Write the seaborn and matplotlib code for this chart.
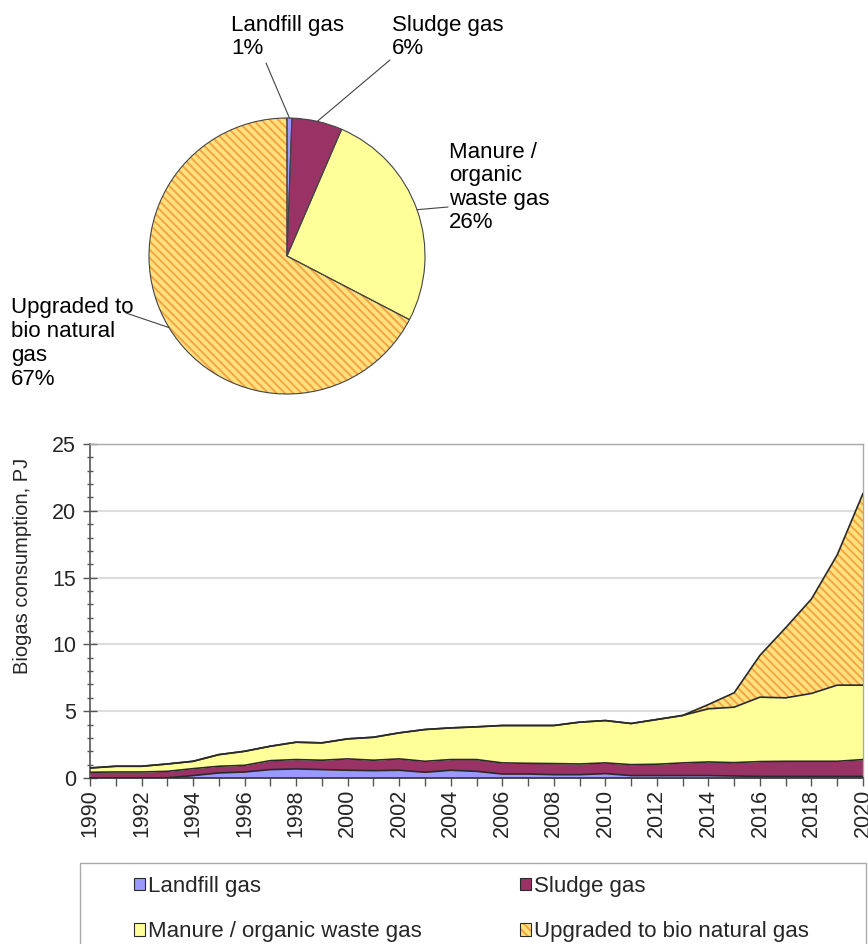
import numpy as np
import pandas as pd
import matplotlib
matplotlib.use("Agg")
import matplotlib.pyplot as plt
from matplotlib.patches import Patch, Rectangle
from matplotlib.ticker import MultipleLocator
import seaborn as sns

# data (PJ)
years = list(range(1990, 2021))
landfill = [0.0, 0.0, 0.0, 0.02, 0.18, 0.38, 0.45, 0.63, 0.68, 0.63, 0.58, 0.55, 0.58, 0.43, 0.58, 0.50,
            0.30, 0.30, 0.25, 0.25, 0.33, 0.18, 0.18, 0.18, 0.18, 0.15, 0.12, 0.12, 0.12, 0.12, 0.12]
sludge = [0.43, 0.45, 0.45, 0.48, 0.52, 0.50, 0.50, 0.67, 0.70, 0.70, 0.85, 0.78, 0.85, 0.82, 0.80, 0.88,
          0.83, 0.80, 0.83, 0.80, 0.80, 0.82, 0.85, 0.95, 1.02, 1.00, 1.11, 1.13, 1.13, 1.13, 1.26]
manure = [0.32, 0.43, 0.43, 0.55, 0.55, 0.87, 1.05, 1.08, 1.30, 1.30, 1.50, 1.72, 1.95, 2.38, 2.37, 2.45,
          2.80, 2.83, 2.85, 3.13, 3.17, 3.08, 3.35, 3.55, 3.98, 4.15, 4.82, 4.75, 5.08, 5.70, 5.57]
upgraded = [0.0, 0.0, 0.0, 0.0, 0.0, 0.0, 0.0, 0.0, 0.0, 0.0, 0.0, 0.0, 0.0, 0.0, 0.0, 0.0,
            0.0, 0.0, 0.0, 0.0, 0.0, 0.0, 0.0, 0.0, 0.32, 1.08, 3.13, 5.25, 7.07, 9.75, 14.35]

legend_names = ["Landfill gas", "Sludge gas", "Manure / organic waste gas", "Upgraded to bio natural gas"]
pie_names = ["Landfill gas", "Sludge gas", "Manure /\norganic\nwaste gas", "Upgraded to\nbio natural\ngas"]

colors = ["#9999FF", "#993366", "#FFFF99", "#FFE27E"]
hatch_col = "#F5A444"
hatch = "\\\\\\\\"
line_col = "#2a2a2a"

sns.set_theme(style="white")
plt.rcParams["font.family"] = ["Liberation Sans", "DejaVu Sans"]
plt.rcParams["hatch.linewidth"] = 1.4
FS_PIE = 16
FS_TICK = 15.5
FS_LAB = 14.5
FS_LEG = 16

W, H = 868, 944
fig = plt.figure(figsize=(W / 100, H / 100), dpi=100)

# ---------------- pie (2020 shares) ----------------
cx, cy, R = 287, 256, 138
pax = fig.add_axes([(cx - R) / W, 1 - (cy + R) / H, 2 * R / W, 2 * R / H])
vals_2020 = [landfill[-1], sludge[-1], manure[-1], upgraded[-1]]
wedges, _ = pax.pie(vals_2020, colors=colors, startangle=90, counterclock=False,
                    wedgeprops=dict(linewidth=0))
wedges[3].set_edgecolor(hatch_col)
wedges[3].set_hatch(hatch)
pax.pie(vals_2020, startangle=90, counterclock=False,
        wedgeprops=dict(fill=False, edgecolor="#444444", linewidth=0.8))
pax.set_xlim(-1, 1)
pax.set_ylim(-1, 1)
pax.set_aspect("equal")
pax.axis("off")

shares = np.array(vals_2020) / sum(vals_2020) * 100


def px2d(x, y):
    return (x - cx) / R, (cy - y) / R


text_pos = [(231, 15), (392, 15), (449, 142), (11, 297)]
line_start = [(266, 63), (390, 60), (448, 207), (126, 313)]
spacing = [1.12, 1.12, 1.15, 1.19]
for i, w in enumerate(wedges):
    tx, ty = px2d(*text_pos[i])
    pax.text(tx, ty, f"{pie_names[i]}\n{shares[i]:.0f}%", ha="left", va="top",
             fontsize=FS_PIE, color="black", linespacing=spacing[i])
    mid = np.deg2rad((w.theta1 + w.theta2) / 2)
    sx, sy = px2d(*line_start[i])
    pax.plot([sx, np.cos(mid)], [sy, np.sin(mid)], color="#444444", lw=0.8, clip_on=False)

# ---------------- stacked area ----------------
ax = fig.add_axes([90 / W, 1 - 778 / H, 773 / W, 334 / H])
df = pd.DataFrame({"year": years, "landfill": landfill, "sludge": sludge,
                   "manure": manure, "upgraded": upgraded})
cols = ["landfill", "sludge", "manure", "upgraded"]
cum = df[cols].cumsum(axis=1)
base = np.zeros(len(df))
for i, c in enumerate(cols):
    top = cum[c].values
    if c == "upgraded":
        ax.fill_between(df["year"], base, top, facecolor=colors[i], edgecolor=hatch_col,
                        hatch=hatch, linewidth=0, zorder=2)
    else:
        ax.fill_between(df["year"], base, top, facecolor=colors[i], linewidth=0, zorder=2)
    base = top

edges = cum.copy()
edges["year"] = df["year"]
edges = edges.melt(id_vars="year", var_name="layer", value_name="PJ")
sns.lineplot(data=edges, x="year", y="PJ", units="layer", estimator=None,
             color=line_col, lw=1.2, ax=ax, zorder=3, legend=False)

ax.set_xlim(1990, 2020)
ax.set_ylim(0, 25)
ax.yaxis.set_major_locator(MultipleLocator(5))
ax.yaxis.set_minor_locator(MultipleLocator(1))
ax.set_xticks(years)
ax.set_xticklabels([str(y) if y % 2 == 0 else "" for y in years], rotation=90)
ax.grid(axis="y", which="major", color="#dddddd", lw=1.5, zorder=0)
ax.set_axisbelow(True)
ax.tick_params(axis="y", which="major", direction="inout", length=10, width=1, color="#555555",
               labelsize=FS_TICK, pad=5, left=True)
ax.tick_params(axis="y", which="minor", direction="inout", length=5, width=1, color="#555555", left=True)
ax.tick_params(axis="x", which="major", direction="out", length=6, width=1, color="#555555",
               labelsize=FS_TICK, pad=2, bottom=True)
for s in ["top", "right"]:
    ax.spines[s].set_color("#aaaaaa")
    ax.spines[s].set_linewidth(1)
ax.spines["left"].set_color("#555555")
ax.spines["bottom"].set_color("#333333")
ax.spines["left"].set_linewidth(1.2)
ax.spines["bottom"].set_linewidth(1.2)
ax.set_xlabel("")
ax.set_ylabel("Biogas consumption, PJ", fontsize=FS_LAB)
ax.yaxis.set_label_coords(-0.075, 0.635)

# ---------------- legend ----------------
fig.patches.append(Rectangle((80 / W, -0.01), 786 / W, (H - 863) / H + 0.01,
                             transform=fig.transFigure, fill=False, ec="#aaaaaa", lw=1))
h_land = Patch(facecolor=colors[0], edgecolor=line_col, lw=0.8)
h_sludge = Patch(facecolor=colors[1], edgecolor=line_col, lw=0.8)
h_manure = Patch(facecolor=colors[2], edgecolor=line_col, lw=0.8)
h_up = (Patch(facecolor=colors[3], edgecolor=hatch_col, hatch=hatch, lw=0),
        Patch(fill=False, edgecolor=line_col, lw=0.8))
fig.legend([h_land, h_manure, h_sludge, h_up],
           [legend_names[0], legend_names[2], legend_names[1], legend_names[3]],
           ncol=2, loc="upper left", bbox_to_anchor=(134 / W, 1 - 876 / H),
           frameon=False, fontsize=FS_LEG, borderaxespad=0, borderpad=0,
           handlelength=0.5, handleheight=0.5, handletextpad=0.15,
           columnspacing=4.4, labelspacing=1.1)

fig.savefig("out.png", dpi=100)
